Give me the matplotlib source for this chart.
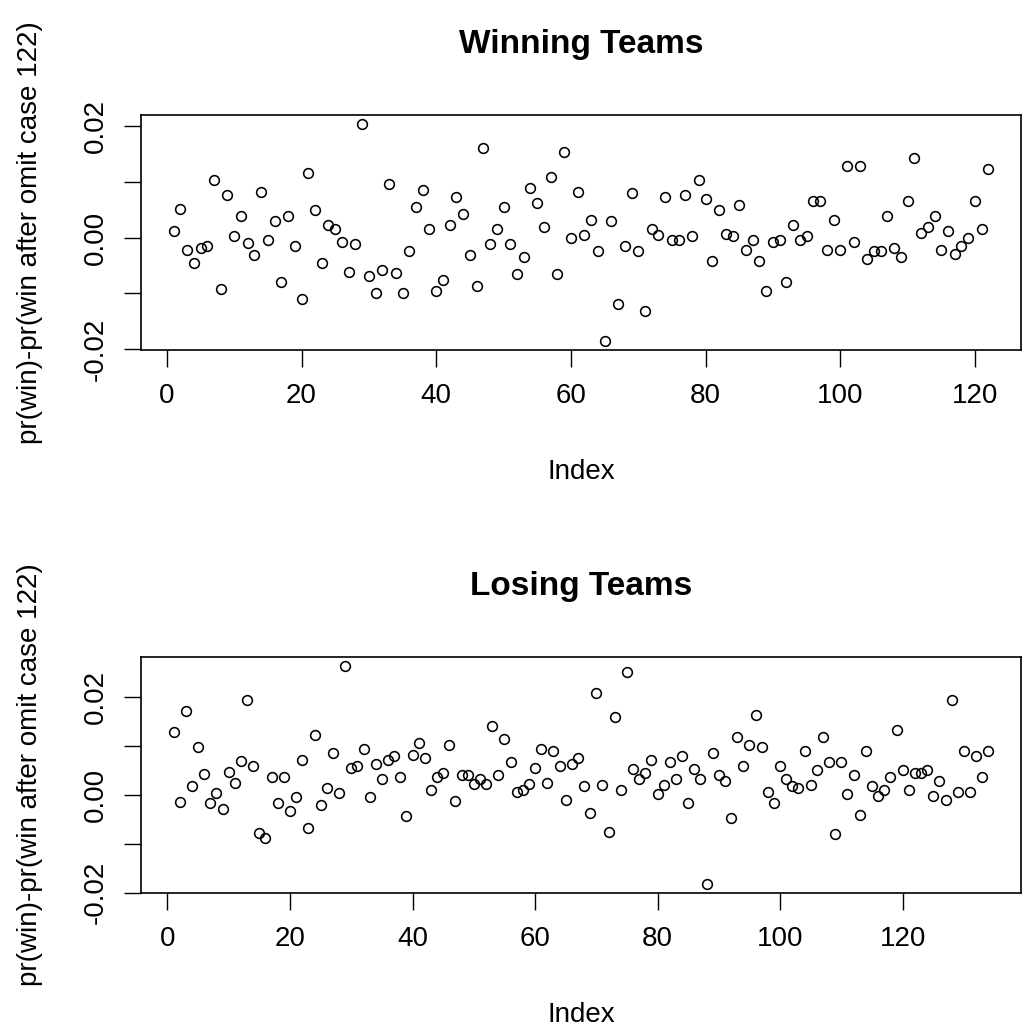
import numpy as np
import matplotlib
matplotlib.use("Agg")
import matplotlib.pyplot as plt

plt.rcParams["font.family"] = ["Liberation Sans", "DejaVu Sans"]

# Change in predicted win probability (x 1e-3) after dropping each case
winning_milli = [
    1.2, 5.2, -2.2, -4.6, -1.9, -1.5, 10.3, -9.3, 7.6, 0.2,
    3.8, -0.9, -3.2, 8.2, -0.5, 2.9, -7.9, 3.8, -1.5, -11.0,
    11.6, 4.9, -4.6, 2.2, 1.5, -0.8, -6.2, -1.2, 20.4, -6.9,
    -9.9, -5.9, 9.6, -6.3, -9.9, -2.5, 5.5, 8.6, 1.5, -9.6,
    -7.6, 2.2, 7.2, 4.2, -3.2, -8.6, 16.0, -1.2, 1.5, 5.5,
    -1.2, -6.5, -3.5, 8.9, 6.2, 1.9, 10.9, -6.5, 15.3, -0.1,
    8.2, 0.5, 3.2, -2.5, -18.6, 2.9, -11.9, -1.5, 7.9, -2.5,
    -13.2, 1.5, 0.5, 7.2, -0.5, -0.5, 7.6, 0.2, 10.3, 6.9,
    -4.2, 4.9, 0.6, 0.2, 5.9, -2.2, -0.5, -4.2, -9.6, -0.8,
    -0.5, -7.9, 2.2, -0.5, 0.2, 6.5, 6.5, -2.2, 3.2, -2.2,
    12.9, -0.8, 12.9, -3.9, -2.5, -2.5, 3.8, -1.8, -3.5, 6.5,
    14.3, 0.8, 1.9, 3.8, -2.2, 1.2, -2.9, -1.5, -0.1, 6.5,
    1.5, 12.3,
]

losing_milli = [
    13.0, -1.4, 17.2, 1.8, 9.9, 4.4, -1.7, 0.5, -2.9, 4.8,
    2.5, 6.9, 19.5, 6.0, -7.8, -8.8, 3.7, -1.7, 3.7, -3.3,
    -0.5, 7.1, -6.7, 12.2, -2.1, 1.4, 8.7, 0.5, 26.5, 5.6,
    6.0, 9.4, -0.5, 6.4, 3.3, 7.1, 7.9, 3.7, -4.4, 8.3,
    10.6, 7.6, 1.0, 3.7, 4.5, 10.2, -1.3, 4.1, 4.1, 2.2,
    3.3, 2.2, 14.1, 4.1, 11.4, 6.7, 0.6, 1.0, 2.2, 5.6,
    9.4, 2.5, 9.1, 6.0, -1.0, 6.4, 7.6, 1.8, -3.6, 21.0,
    2.1, -7.5, 16.0, 1.0, 25.2, 5.3, 3.3, 4.5, 7.2, 0.2,
    2.1, 6.7, 3.3, 7.9, -1.7, 5.3, 3.3, -18.3, 8.7, 4.1,
    2.9, -4.8, 11.8, 6.0, 10.2, 16.4, 9.8, 0.6, -1.7, 6.0,
    3.3, 1.8, 1.4, 9.1, 2.1, 5.2, 11.8, 6.7, -7.9, 6.7,
    0.2, 4.1, -4.1, 9.1, 1.8, -0.2, 1.0, 3.7, 13.3, 5.2,
    1.0, 4.5, 4.5, 5.2, -0.2, 2.9, -1.0, 19.5, 0.6, 9.1,
    0.6, 7.9, 3.7, 9.1,
]

titles = ["Winning Teams", "Losing Teams"]
y_label = "pr(win)-pr(win after omit case 122)"
x_label = "Index"
x_ticks = [0, 20, 40, 60, 80, 100, 120]
y_ticks = [-0.02, -0.01, 0.0, 0.01, 0.02]
y_tick_labels = ["-0.02", "", "0.00", "", "0.02"]

W, H = 1029, 1036
fig = plt.figure(figsize=(W / 100, H / 100), dpi=100)
fig.patch.set_facecolor("white")

# panel boxes in pixels: (left, top, right, bottom)
boxes = [(141, 115, 1021, 350), (141, 657, 1021, 893)]
series = [np.array(winning_milli) / 1000.0, np.array(losing_milli) / 1000.0]


def padded(lo, hi, frac=0.04):
    d = (hi - lo) * frac
    return lo - d, hi + d


for (l, t, r, b), vals, title in zip(boxes, series, titles):
    ax = fig.add_axes([l / W, 1 - b / H, (r - l) / W, (b - t) / H])
    idx = np.arange(1, len(vals) + 1)
    ax.plot(idx, vals, linestyle="none", marker="o", markersize=7,
            markerfacecolor="none", markeredgecolor="black",
            markeredgewidth=1.15)
    ax.set_xlim(*padded(1, len(vals)))
    ax.set_ylim(*padded(vals.min(), vals.max()))

    ax.set_xticks(x_ticks)
    ax.set_xticklabels([str(v) for v in x_ticks])
    ax.set_yticks(y_ticks)
    ax.set_yticklabels(y_tick_labels, rotation=90, va="center")

    ax.tick_params(axis="both", direction="out", length=12, width=1.0,
                   labelsize=20, colors="black")
    ax.tick_params(axis="x", pad=12)
    ax.tick_params(axis="y", pad=11)
    for s in ax.spines.values():
        s.set_linewidth(1.2)
        s.set_color("black")

    ax.set_xlabel(x_label, fontsize=20, va="center")
    ax.xaxis.set_label_coords(0.5, -122 / (b - t))
    ax.set_ylabel(y_label, fontsize=20, va="center")
    ax.yaxis.set_label_coords(-(l - 30) / (r - l), 0.5)

    fig.text((l + r) / 2 / W, 1 - (t - 62) / H, title, ha="center",
             va="baseline", fontsize=24, fontweight="bold")

fig.savefig("out.png", dpi=100, facecolor="white")
